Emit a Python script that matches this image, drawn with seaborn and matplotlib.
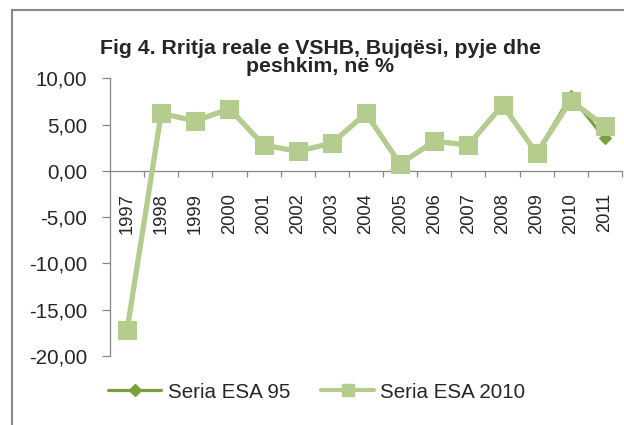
import matplotlib
matplotlib.use("Agg")
import matplotlib.pyplot as plt
import matplotlib.ticker as mticker
from matplotlib.patches import Rectangle
from matplotlib.lines import Line2D
import seaborn as sns
import pandas as pd
import numpy as np

years = ["1997", "1998", "1999", "2000", "2001", "2002", "2003", "2004",
         "2005", "2006", "2007", "2008", "2009", "2010", "2011"]
esa95 = [-17.2, 6.2, 5.4, 6.7, 2.8, 2.1, 3.0, 6.2, 0.75, 3.2, 2.8, 7.1, 1.9, 8.1, 3.5]
esa2010 = [-17.2, 6.2, 5.4, 6.7, 2.8, 2.1, 3.0, 6.2, 0.75, 3.2, 2.8, 7.1, 1.9, 7.6, 4.8]
series_names = ["Seria ESA 95", "Seria ESA 2010"]
title_lines = ["Fig 4. Rritja reale e VSHB, Bujqësi, pyje dhe", "peshkim, në %"]

sns.set_style("white")
plt.rcParams["font.family"] = ["Liberation Sans", "DejaVu Sans"]

c95 = "#7AA03E"
c10 = "#B5CC8F"
axis_c = "#868686"
FS = 14.8
FS_X = 13.2
FS_T = 15.3

df = pd.DataFrame({"pos": np.arange(len(years)), "year": years,
                   series_names[0]: esa95, series_names[1]: esa2010})

fig = plt.figure(figsize=(6.24, 4.25), dpi=100)
ax = fig.add_axes([110 / 624, 1 - 356 / 425, 512 / 624, (356 - 78.3) / 425])

sns.lineplot(data=df, x="pos", y=series_names[0], ax=ax, color=c95, lw=2.3,
             marker="D", markersize=6, markeredgecolor=c95, zorder=3)
sns.lineplot(data=df, x="pos", y=series_names[1], ax=ax, color=c10, lw=3.8,
             marker="s", markersize=13, markeredgecolor=c10, zorder=4)

ax.set_xlim(-0.5, len(years) - 0.5)
ax.set_ylim(-20, 10)
ax.set_xlabel("")
ax.set_ylabel("")

# spines
for s in ["top", "right"]:
    ax.spines[s].set_visible(False)
ax.spines["left"].set_color(axis_c)
ax.spines["left"].set_linewidth(0.9)
ax.spines["bottom"].set_position(("data", 0))
ax.spines["bottom"].set_color(axis_c)
ax.spines["bottom"].set_linewidth(0.9)

# y axis
ax.yaxis.set_major_locator(mticker.MultipleLocator(5))
ax.yaxis.set_major_formatter(mticker.FuncFormatter(lambda v, p: f"{v:.2f}".replace(".", ",")))
ax.tick_params(axis="y", which="major", direction="out", length=5.5, width=0.9,
               color=axis_c, pad=11, labelsize=FS, left=True)

# x axis
ax.set_xticks(df["pos"])
ax.set_xticklabels(years, rotation=90, va="top", ha="center")
ax.xaxis.set_minor_locator(mticker.FixedLocator(np.arange(0.5, len(years), 1.0)))
ax.tick_params(axis="x", which="major", length=0, pad=16, labelsize=FS_X)
ax.tick_params(axis="x", which="minor", direction="out", length=4, width=0.9,
               color=axis_c, bottom=True)
ax.grid(False)

# title (two centred lines)
fig.text(320 / 624, 1 - 48 / 425, title_lines[0], ha="center", va="center",
         fontsize=FS_T, fontweight="bold")
fig.text(320 / 624, 1 - 67 / 425, title_lines[1], ha="center", va="center",
         fontsize=FS_T, fontweight="bold")

# legend
handles = [
    Line2D([], [], color=c95, lw=2.3, marker="D", markersize=6, markeredgecolor=c95),
    Line2D([], [], color=c10, lw=3.0, marker="s", markersize=8.5, markeredgecolor=c10),
]
leg = fig.legend(handles, series_names, loc="center left",
                 bbox_to_anchor=(108 / 624, 1 - 392 / 425), ncol=2, frameon=False,
                 fontsize=FS, handlelength=2.6, handletextpad=0.3,
                 columnspacing=1.5, borderpad=0, borderaxespad=0)

# outer border
fig.patches.append(Rectangle((12 / 624, -0.2), 1.2, 1 - 10 / 425 + 0.2,
                             transform=fig.transFigure, fill=False,
                             edgecolor="#888888", lw=1.5, zorder=0))

fig.savefig("out.png", dpi=100)
